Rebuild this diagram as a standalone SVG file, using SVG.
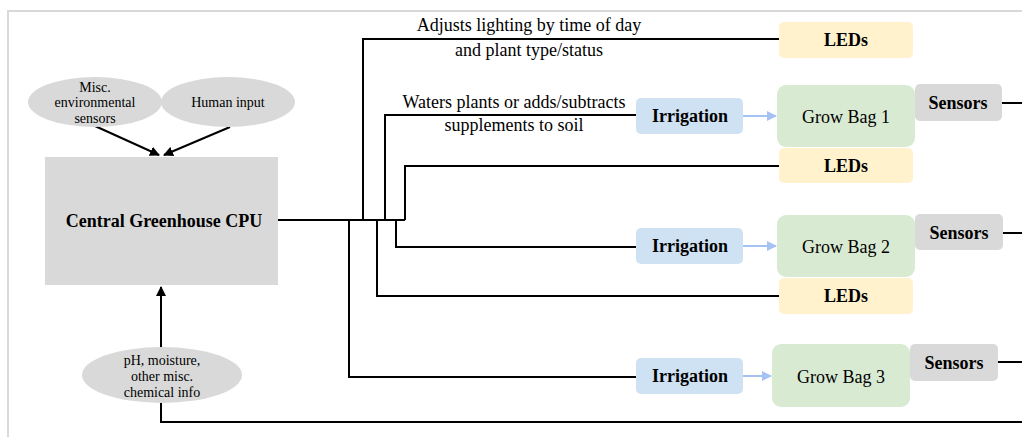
<svg xmlns="http://www.w3.org/2000/svg" width="1022" height="437" viewBox="0 0 1022 437" font-family="'Liberation Serif', 'DejaVu Serif', serif">
<style>
text{font-family:"Liberation Serif","DejaVu Serif",serif;fill:#000}
.b{font-weight:bold}
.ell{fill:#d9d9d9}
.gray{fill:#d9d9d9}
.led{fill:#fff2cc}
.irr{fill:#cfe2f3}
.bag{fill:#d9ead3}
.ln{fill:none;stroke:#000;stroke-width:2}
.bl{fill:none;stroke:#a4c2f4;stroke-width:2}
</style>
<defs>
<marker id="ah" viewBox="0 0 10 10" refX="9" refY="5" markerWidth="5" markerHeight="5" orient="auto" markerUnits="strokeWidth"><path d="M0,0L10,5L0,10z" fill="#000"/></marker>
<marker id="bh" viewBox="0 0 10 10" refX="9" refY="5" markerWidth="5" markerHeight="5" orient="auto" markerUnits="strokeWidth"><path d="M0,0L10,5L0,10z" fill="#a4c2f4"/></marker>
</defs>
<rect x="0" y="0" width="1022" height="437" fill="#fff"/>
<path d="M8,437V11H1022" fill="none" stroke="#d9d9d9" stroke-width="2"/>
<g id="connectors">
<line class="ln" x1="95" y1="126" x2="159" y2="155" marker-end="url(#ah)"/>
<line class="ln" x1="230" y1="127" x2="164" y2="155" marker-end="url(#ah)"/>
<line class="ln" x1="161" y1="348" x2="161" y2="287" marker-end="url(#ah)"/>
<path class="ln" d="M161,403V422H1022"/>
<path class="ln" d="M278,220H405"/>
<path class="ln" d="M363,220V39H779"/>
<path class="ln" d="M385,220V115H636"/>
<path class="ln" d="M405,220V166H779"/>
<path class="ln" d="M349,220V377H636"/>
<path class="ln" d="M377,220V296H779"/>
<path class="ln" d="M396,220V247H636"/>
<line class="bl" x1="743" y1="116" x2="776" y2="116" marker-end="url(#bh)"/>
<line class="bl" x1="743" y1="246" x2="776" y2="246" marker-end="url(#bh)"/>
<line class="bl" x1="743" y1="376" x2="771" y2="376" marker-end="url(#bh)"/>
<path class="ln" d="M1002,103H1022"/>
<path class="ln" d="M1002,233H1022"/>
<path class="ln" d="M998,362H1022"/>
</g>
<g id="labels">
<text x="529" y="31" font-size="18" text-anchor="middle">Adjusts lighting by time of day</text>
<text x="529" y="56" font-size="18" text-anchor="middle">and plant type/status</text>
<text x="514" y="108" font-size="18" text-anchor="middle">Waters plants or adds/subtracts</text>
<text x="514" y="131" font-size="18" text-anchor="middle">supplements to soil</text>
</g>
<g id="misc-sensors">
<ellipse class="ell" cx="95" cy="102" rx="67" ry="25"/>
<text x="95" y="92" font-size="14" text-anchor="middle">Misc.</text>
<text x="95" y="107" font-size="14" text-anchor="middle">environmental</text>
<text x="95" y="123" font-size="14" text-anchor="middle">sensors</text>
</g>
<g id="human-input">
<ellipse class="ell" cx="228" cy="102" rx="67" ry="25"/>
<text x="228" y="107" font-size="14" text-anchor="middle">Human input</text>
</g>
<g id="cpu">
<rect class="gray" x="45" y="157" width="233" height="128"/>
<text class="b" x="164" y="227" font-size="18" text-anchor="middle">Central Greenhouse CPU</text>
</g>
<g id="chem">
<ellipse class="ell" cx="162" cy="375" rx="80" ry="28"/>
<text x="162" y="365" font-size="14" text-anchor="middle">pH, moisture,</text>
<text x="162" y="381" font-size="14" text-anchor="middle">other misc.</text>
<text x="162" y="397" font-size="14" text-anchor="middle">chemical info</text>
</g>
<g id="leds1"><rect class="led" x="779" y="22" width="134" height="36" rx="5"/><text class="b" x="846" y="46" font-size="18" text-anchor="middle">LEDs</text></g>
<g id="leds2"><rect class="led" x="779" y="148" width="134" height="35" rx="5"/><text class="b" x="846" y="172" font-size="18" text-anchor="middle">LEDs</text></g>
<g id="leds3"><rect class="led" x="779" y="278" width="134" height="36" rx="5"/><text class="b" x="846" y="302" font-size="18" text-anchor="middle">LEDs</text></g>
<g id="irr1"><rect class="irr" x="636" y="98" width="107" height="36" rx="5"/><text class="b" x="690" y="122" font-size="18" text-anchor="middle">Irrigation</text></g>
<g id="irr2"><rect class="irr" x="636" y="228" width="107" height="36" rx="5"/><text class="b" x="690" y="252" font-size="18" text-anchor="middle">Irrigation</text></g>
<g id="irr3"><rect class="irr" x="636" y="358" width="107" height="36" rx="5"/><text class="b" x="690" y="382" font-size="18" text-anchor="middle">Irrigation</text></g>
<g id="bag1"><rect class="bag" x="777" y="85" width="138" height="62" rx="9"/><text x="846" y="123" font-size="18" text-anchor="middle">Grow Bag 1</text></g>
<g id="bag2"><rect class="bag" x="777" y="215" width="138" height="62" rx="9"/><text x="846" y="253" font-size="18" text-anchor="middle">Grow Bag 2</text></g>
<g id="bag3"><rect class="bag" x="772" y="344" width="138" height="63" rx="9"/><text x="841" y="383" font-size="18" text-anchor="middle">Grow Bag 3</text></g>
<g id="sensors1"><rect class="gray" x="915" y="84" width="87" height="37" rx="5"/><text class="b" x="958" y="109" font-size="18" text-anchor="middle">Sensors</text></g>
<g id="sensors2"><rect class="gray" x="915" y="214" width="88" height="36" rx="5"/><text class="b" x="959" y="239" font-size="18" text-anchor="middle">Sensors</text></g>
<g id="sensors3"><rect class="gray" x="910" y="344" width="88" height="37" rx="5"/><text class="b" x="954" y="369" font-size="18" text-anchor="middle">Sensors</text></g>
</svg>
